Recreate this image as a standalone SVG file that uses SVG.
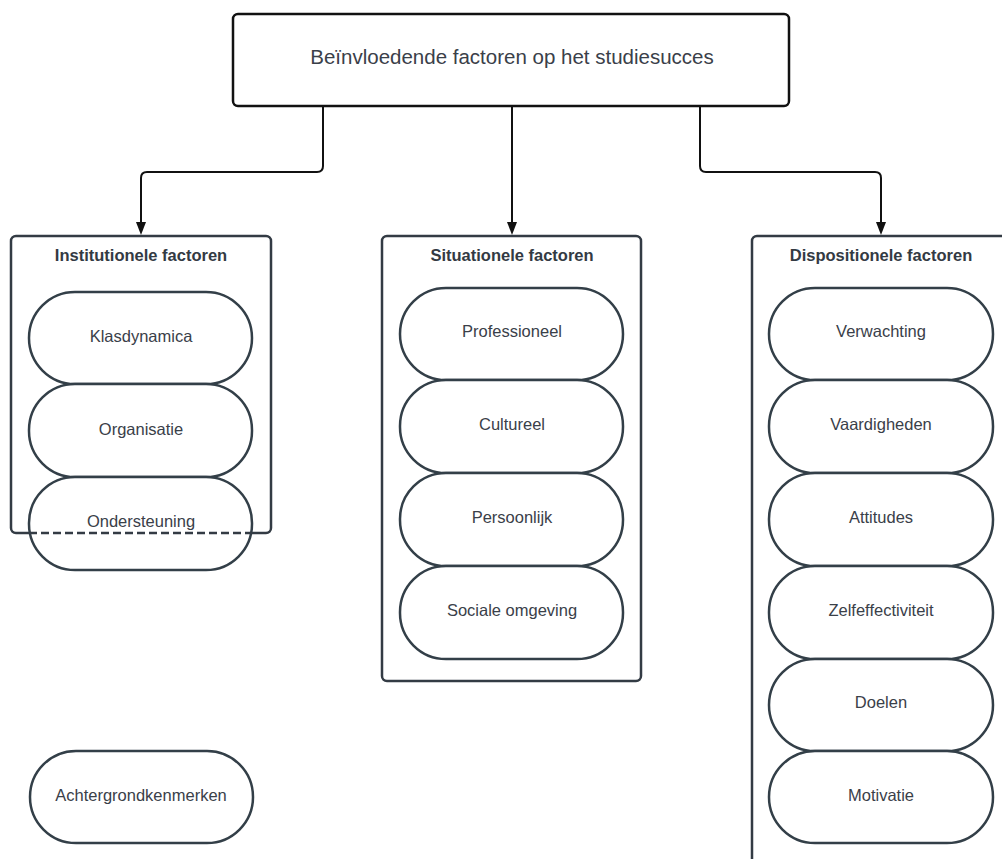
<svg xmlns="http://www.w3.org/2000/svg" width="1002" height="859" viewBox="0 0 1002 859">
<style>
.bg{fill:#ffffff}
.main{fill:#fff;stroke:#111;stroke-width:2.5}
.cont{fill:#fff;stroke:#333b44;stroke-width:2.5}
.pill{fill:#fff;stroke:#333f48;stroke-width:2.5}
.conn{fill:none;stroke:#111;stroke-width:2}
.t{font-family:"Liberation Sans",Arial,sans-serif;fill:#3a4049;text-anchor:middle}
.pt{font-size:16.5px}
.ht{font-size:16.5px;font-weight:bold;fill:#333a43}
.mt{font-size:20.5px}
</style>
<rect class="bg" x="0" y="0" width="1002" height="859"/>
<g id="connectors">
<path class="conn" d="M323,106 V166 Q323,172 317,172 H147 Q141,172 141,178 V226"/>
<path class="conn" d="M512,106 V226"/>
<path class="conn" d="M700,106 V166 Q700,172 706,172 H875 Q881,172 881,178 V226"/>
<path d="M136,222 L146,222 L141,235 Z" fill="#111"/>
<path d="M507,222 L517,222 L512,235 Z" fill="#111"/>
<path d="M876,222 L886,222 L881,235 Z" fill="#111"/>
</g>
<g id="top">
<rect class="main" x="233" y="14" width="556" height="92" rx="5"/>
<text class="t mt" x="512" y="64">Beïnvloedende factoren op het studiesucces</text>
</g>
<g id="institutionele">
<rect class="cont" x="11" y="236" width="260" height="297" rx="5"/>
<text class="t ht" x="141" y="261">Institutionele factoren</text>
</g>
<g id="klasdynamica"><rect class="pill" x="29" y="292" width="223" height="92" rx="46"/><text class="t pt" x="141" y="342">Klasdynamica</text></g>
<g id="organisatie"><rect class="pill" x="29" y="384" width="223" height="93" rx="46"/><text class="t pt" x="141" y="435">Organisatie</text></g>
<g id="ondersteuning"><rect class="pill" x="29" y="477" width="223" height="93" rx="46"/><text class="t pt" x="141" y="527">Ondersteuning</text>
<line x1="29" y1="533" x2="252" y2="533" stroke="#333b44" stroke-width="2.5" stroke-dasharray="8,4"/></g>
<g id="situationele">
<rect class="cont" x="382" y="236" width="259" height="445" rx="5"/>
<text class="t ht" x="512" y="261">Situationele factoren</text>
</g>
<g id="professioneel"><rect class="pill" x="400" y="288" width="223" height="92" rx="46"/><text class="t pt" x="512" y="337">Professioneel</text></g>
<g id="cultureel"><rect class="pill" x="400" y="380" width="223" height="93" rx="46"/><text class="t pt" x="512" y="430">Cultureel</text></g>
<g id="persoonlijk"><rect class="pill" x="400" y="473" width="223" height="93" rx="46"/><text class="t pt" x="512" y="523">Persoonlijk</text></g>
<g id="sociale"><rect class="pill" x="400" y="566" width="223" height="93" rx="46"/><text class="t pt" x="512" y="616">Sociale omgeving</text></g>
<g id="dispositionele">
<rect class="cont" x="752" y="236" width="270" height="640" rx="5"/>
<text class="t ht" x="881" y="261">Dispositionele factoren</text>
</g>
<g id="verwachting"><rect class="pill" x="769" y="288" width="224" height="92" rx="46"/><text class="t pt" x="881" y="337">Verwachting</text></g>
<g id="vaardigheden"><rect class="pill" x="769" y="380" width="224" height="93" rx="46"/><text class="t pt" x="881" y="430">Vaardigheden</text></g>
<g id="attitudes"><rect class="pill" x="769" y="473" width="224" height="93" rx="46"/><text class="t pt" x="881" y="523">Attitudes</text></g>
<g id="zelfeffectiviteit"><rect class="pill" x="769" y="566" width="224" height="93" rx="46"/><text class="t pt" x="881" y="616">Zelfeffectiviteit</text></g>
<g id="doelen"><rect class="pill" x="769" y="659" width="224" height="92" rx="46"/><text class="t pt" x="881" y="708">Doelen</text></g>
<g id="motivatie"><rect class="pill" x="769" y="751" width="224" height="92" rx="46"/><text class="t pt" x="881" y="801">Motivatie</text></g>
<g id="achtergrond"><rect class="pill" x="30" y="751" width="223" height="92" rx="46"/><text class="t pt" x="141" y="801">Achtergrondkenmerken</text></g>
</svg>
